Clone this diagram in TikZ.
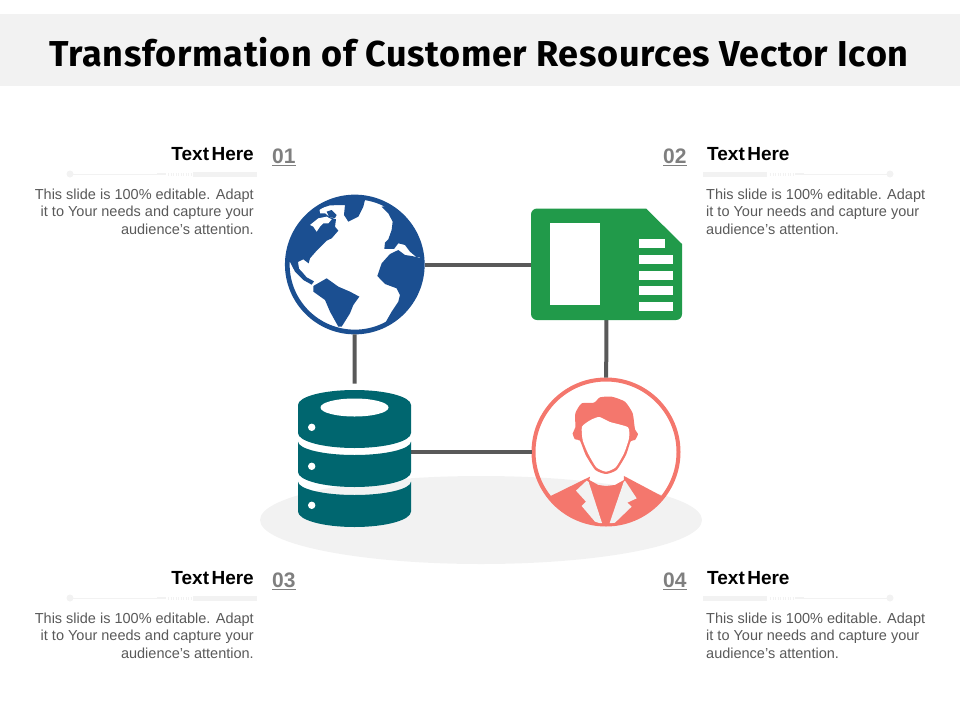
\documentclass[tikz,border=0pt]{standalone}
\usepackage{fontspec}
\setmainfont{Liberation Sans}
\newfontfamily\titlefont[LetterSpace=2]{Fira Sans}
\definecolor{bandgrey}{HTML}{F2F2F2}
\definecolor{linegrey}{HTML}{595959}
\definecolor{numgrey}{HTML}{7F7F7F}
\definecolor{globeblue}{HTML}{1B4F91}
\definecolor{cardgreen}{HTML}{219A4A}
\definecolor{dbteal}{HTML}{00666F}
\definecolor{personred}{HTML}{F4776D}
\begin{document}
\begin{tikzpicture}[x=1pt,y=-1pt,
		heading/.style={inner sep=0pt,font=\fontsize{19}{21}\selectfont\bfseries},
		number/.style={inner sep=0pt,text=numgrey,font=\fontsize{21}{23}\selectfont\bfseries},
		blurb/.style={inner sep=0pt,text=linegrey,font=\fontsize{14.5}{17.6}\selectfont},
		connector/.style={draw=linegrey,line width=4pt},
		ring/.style={circle,inner sep=0pt},
		slot/.style={fill=white},
		rule/.style={draw=bandgrey,line width=0.8pt},
		rulebar/.style={fill=bandgrey},
		ruledots/.style={draw=bandgrey,line width=3pt,dash pattern=on 1pt off 1.5pt},
		pics/ruleleft/.style={code={
			\fill[rulebar] (70,0) circle (3.5);
			\draw[rule] (70,0) -- (158,0);
			\fill[rulebar] (157,-1.2) rectangle (166,1.2);
			\draw[ruledots] (168,0) -- (191,0);
			\fill[rulebar] (193,-2.5) rectangle (257,2.5);
		}},
		pics/ruleright/.style={code={
			\fill[rulebar] (703,-2.5) rectangle (767,2.5);
			\draw[ruledots] (770,0) -- (793,0);
			\fill[rulebar] (795,-1.2) rectangle (804,1.2);
			\draw[rule] (803,0) -- (890,0);
			\fill[rulebar] (890,0) circle (3.5);
		}}]
		
		\useasboundingbox (0,0) rectangle (960,720);
		\fill[bandgrey] (0,14) rectangle (960,86);
		\node[inner sep=0pt,font=\fontsize{36}{40}\titlefont\bfseries] (Title) at (479,52) {Transformation of Customer Resources Vector Icon};
		\fill[bandgrey] (481,520) ellipse (221 and 44);
		
		\node[heading,anchor=base east] (Head1) at (254,160) {Text\hspace{-0.15em} Here};
		\node[number,anchor=base west] (Num1) at (272,163.5) {\underline{01}};
		\node[blurb,anchor=north east,align=right] (Blurb1) at (254,188.5) {This slide is 100\% editable. Adapt\\it to Your needs and capture your\\audience's attention.};
		\pic at (0,174) {ruleleft};
		
		\node[heading,anchor=base west] (Head2) at (707,160) {Text\hspace{-0.15em} Here};
		\node[number,anchor=base west] (Num2) at (663,163.5) {\underline{02}};
		\node[blurb,anchor=north west,align=left] (Blurb2) at (706,188.5) {This slide is 100\% editable. Adapt\\it to Your needs and capture your\\audience's attention.};
		\pic at (0,174) {ruleright};
		
		\node[heading,anchor=base east] (Head3) at (254,584) {Text\hspace{-0.15em} Here};
		\node[number,anchor=base west] (Num3) at (272,587.5) {\underline{03}};
		\node[blurb,anchor=north east,align=right] (Blurb3) at (254,612.5) {This slide is 100\% editable. Adapt\\it to Your needs and capture your\\audience's attention.};
		\pic at (0,598) {ruleleft};
		
		\node[heading,anchor=base west] (Head4) at (707,584) {Text\hspace{-0.15em} Here};
		\node[number,anchor=base west] (Num4) at (663,587.5) {\underline{04}};
		\node[blurb,anchor=north west,align=left] (Blurb4) at (706,612.5) {This slide is 100\% editable. Adapt\\it to Your needs and capture your\\audience's attention.};
		\pic at (0,598) {ruleright};
		
		\node[ring,draw=globeblue,fill=white,line width=4.7pt,minimum size=135pt] (Globe) at (354.8,264.5) {};
		\node[minimum width=151pt,minimum height=111pt,inner sep=0pt,outer sep=0pt] (Card) at (606.5,264.5) {};
		\node[minimum width=113pt,minimum height=137pt,inner sep=0pt,outer sep=0pt] (Database) at (354.5,452) {};
		\node[ring,draw=personred,line width=4pt,minimum size=145pt] (Person) at (606,452) {};
		
		\draw[connector] (Globe) -- (Card);
		\draw[connector] (Globe) -- (Database);
		\draw[connector] (Card) -- (Person);
		\draw[connector] (Database) -- (Person);
		
		\begin{scope}[shift={(270,180)},x=0.3333pt,y=-0.3333pt]
			\clip (255,252) circle (205);
			\fill[globeblue] (30,250) -- (60,246) -- (75,275) -- (100,300) -- (125,314) -- (132,304) -- (110,292) -- (98,278) -- (87,266) -- (84,246) -- (100,238) -- (116,250) -- (120,235) -- (140,212) -- (170,182) -- (185,175) -- (205,152) -- (195,140) -- (198,118) -- (180,112) -- (165,100) -- (150,100) -- (148,86) -- (180,76) -- (225,75) -- (225,40) -- (130,40) -- (40,100) -- cycle;
			\fill[white] (120,135) -- (145,115) -- (170,110) -- (185,118) -- (175,130) -- (160,130) -- (150,140) -- (140,155) -- (130,140) -- cycle;
			\fill[globeblue] (170,95) -- (185,90) -- (200,105) -- (195,114) -- (178,112) -- cycle;
			\fill[globeblue] (222,40) -- (225,75) -- (222,105) -- (235,125) -- (265,110) -- (280,80) -- (285,60) -- (285,40) -- cycle;
			\fill[globeblue] (335,80) -- (355,100) -- (368,125) -- (365,150) -- (355,178) -- (345,188) -- (343,207) -- (372,207) -- (385,190) -- (405,195) -- (420,215) -- (440,232) -- (480,230) -- (480,60) -- cycle;
			\fill[globeblue] (322,288) -- (335,250) -- (360,222) -- (385,210) -- (405,225) -- (425,228) -- (470,238) -- (480,400) -- (335,455) -- (345,430) -- (365,395) -- (385,365) -- (390,345) -- (380,325) -- (345,312) -- cycle;
			\fill[globeblue] (130,318) -- (170,295) -- (205,320) -- (240,335) -- (268,350) -- (250,375) -- (240,400) -- (215,440) -- (205,440) -- (180,395) -- (165,360) -- (130,335) -- cycle;
		\end{scope}
		
		\fill[cardgreen] (537,208.5) -- (646,208.5) -- (682,244) -- (682,314) arc[start angle=0,end angle=90,radius=6] -- (537,320) arc[start angle=90,end angle=180,radius=6] -- (531,214.5) arc[start angle=180,end angle=270,radius=6] -- cycle;
		\fill[slot] (550,223) rectangle (599.5,305);
		\fill[slot] (639,239) rectangle (665,248.3);
		\fill[slot] (639,255) rectangle (673.3,264);
		\fill[slot] (639,270.7) rectangle (673.3,279.7);
		\fill[slot] (639,286.3) rectangle (673.3,295.3);
		\fill[slot] (639,302) rectangle (673.3,311);
		
		\fill[dbteal] (298,405) arc[start angle=180,end angle=360,x radius=56.5,y radius=15] -- (411,433) arc[start angle=0,end angle=180,x radius=56.5,y radius=15] -- cycle;
		\fill[dbteal] (298,441.5) arc[start angle=180,end angle=0,x radius=56.5,y radius=13.5] -- (411,472) arc[start angle=0,end angle=180,x radius=56.5,y radius=15] -- cycle;
		\fill[dbteal] (298,481.5) arc[start angle=180,end angle=0,x radius=56.5,y radius=13.5] -- (411,511.5) arc[start angle=0,end angle=180,x radius=56.5,y radius=15.5] -- cycle;
		\fill[white] (354.5,407.5) ellipse (34 and 9);
		\fill[white] (311.7,427.3) circle (3.7);
		\fill[white] (311.7,466.3) circle (3.7);
		\fill[white] (311.7,505.3) circle (3.7);
		
		\begin{scope}[shift={(520,370)},x=0.3333pt,y=-0.3333pt]
			\clip (258,245) circle (215);
			\fill[personred] (92,378) -- (210,320) -- (208,330) -- (235,345) -- (258,348) -- (285,345) -- (312,330) -- (312,318) -- (425,378) -- (480,480) -- (40,480) -- cycle;
			\fill[bandgrey] (200,332) -- (168,362) -- (198,395) -- (185,408) -- (225,455) -- (247,462) -- (206,336) -- cycle;
			\fill[bandgrey] (315,332) -- (350,385) -- (322,398) -- (335,410) -- (285,458) -- (268,462) -- (311,336) -- cycle;
			\fill[personred] plot[smooth cycle,tension=0.35] coordinates {(166,130) (185,100) (222,98) (240,82) (275,80) (315,95) (338,130) (345,178) (354,192) (345,210) (332,214) (318,255) (290,300) (258,312) (226,300) (197,255) (180,212) (165,208) (158,190) (166,172)};
			\fill[white] plot[smooth cycle,tension=0.35] coordinates {(186,170) (212,150) (238,141) (270,156) (324,172) (327,205) (312,250) (287,292) (258,305) (229,292) (204,250) (188,210)};
		\end{scope}
		
		\end{tikzpicture}
\end{document}
